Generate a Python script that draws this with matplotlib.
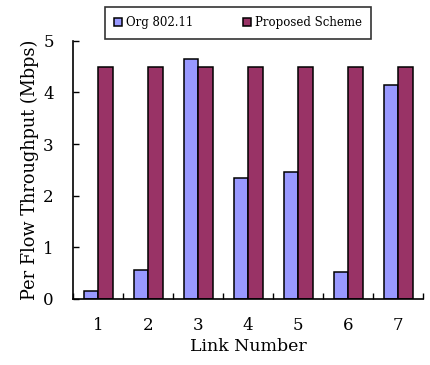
import matplotlib
matplotlib.use("Agg")
import matplotlib.pyplot as plt
import numpy as np

links = ["1", "2", "3", "4", "5", "6", "7"]
org_80211 = [0.16, 0.56, 4.64, 2.34, 2.45, 0.52, 4.15]
proposed = [4.5, 4.5, 4.5, 4.5, 4.5, 4.5, 4.5]
yticks = [0, 1, 2, 3, 4, 5]

plt.rcParams['font.family'] = ['DejaVu Serif']

fig = plt.figure(figsize=(4.3, 3.65), dpi=100)
ax = fig.add_axes([0.170, 0.181, 0.814, 0.707])

x = np.arange(len(links))
w = 0.29
b1 = ax.bar(x - w/2, org_80211, w, color='#9999FF', edgecolor='black', linewidth=1.1, label='Org 802.11')
b2 = ax.bar(x + w/2, proposed, w, color='#993366', edgecolor='black', linewidth=1.1, label='Proposed Scheme')

ax.set_xlim(-0.5, len(links) - 0.5)
ax.set_ylim(0, 5)
ax.set_yticks(yticks)
ax.set_yticklabels([str(v) for v in yticks], fontsize=12)
ax.set_xticks(x)
ax.set_xticklabels(links, fontsize=12)
ax.tick_params(axis='x', length=0, pad=13)
ax.tick_params(axis='y', direction='in', length=4, width=1, pad=14)
ax.set_xticks(np.arange(-0.5, len(links) + 0.5, 1), minor=True)
ax.tick_params(axis='x', which='minor', direction='in', length=4, width=1)
ax.spines['top'].set_visible(False)
ax.spines['right'].set_visible(False)
ax.spines['left'].set_linewidth(1.2)
ax.spines['bottom'].set_linewidth(1.2)

ax.set_ylabel('Per Flow Throughput (Mbps)', fontsize=12.8, labelpad=3)
ax.set_xlabel('Link Number', fontsize=12.5, labelpad=3)

leg = fig.legend(handles=[b1, b2], loc='center', bbox_to_anchor=(0.553, 0.938), ncol=2,
                 fontsize=8.5, frameon=True, fancybox=False, edgecolor='black',
                 handlelength=0.7, handleheight=0.7, columnspacing=4.2, handletextpad=0.3,
                 borderpad=0.8)
leg.get_frame().set_linewidth(1.2)

fig.savefig('out.png', dpi=100)
